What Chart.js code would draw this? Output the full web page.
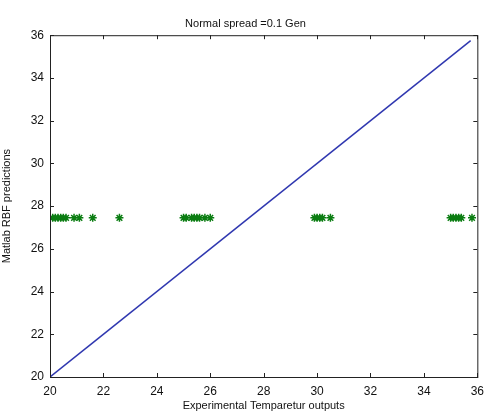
<!DOCTYPE html>
<html>
<head>
<meta charset="utf-8">
<script src="https://cdn.jsdelivr.net/npm/chart.js@4"></script>
<style>
  body { margin: 0; background: #fff; }
</style>
</head>
<body>
<canvas id="rbfChart" width="491" height="413"></canvas>
<script>
var experimental = [20.1, 20.2, 20.3, 20.4, 20.5, 20.6, 20.9, 21.1, 21.6, 22.6,
                    25.0, 25.1, 25.3, 25.4, 25.5, 25.6, 25.8, 26.0,
                    29.9, 30.0, 30.1, 30.2, 30.5,
                    35.0, 35.1, 35.2, 35.3, 35.4, 35.8];
var predicted = [27.45, 27.45, 27.45, 27.45, 27.45, 27.45, 27.45, 27.45, 27.45, 27.45,
                 27.45, 27.45, 27.45, 27.45, 27.45, 27.45, 27.45, 27.45,
                 27.45, 27.45, 27.45, 27.45, 27.45,
                 27.45, 27.45, 27.45, 27.45, 27.45, 27.45];
var idealX = [20, 35.75];
var idealY = [20, 35.75];
var xTicks = [20, 22, 24, 26, 28, 30, 32, 34, 36];
var yTicks = [20, 22, 24, 26, 28, 30, 32, 34, 36];

var points = experimental.map(function(v, i) { return {x: v, y: predicted[i]}; });
var ideal = idealX.map(function(v, i) { return {x: v, y: idealY[i]}; });

// matlab style box with inward ticks on all four sides
var boxPlugin = {
    id: 'matlabBox',
    afterDraw: function(chart) {
        var ctx = chart.ctx;
        var a = chart.chartArea;
        var sx = chart.scales.x, sy = chart.scales.y;
        ctx.save();
        ctx.strokeStyle = '#222';
        ctx.lineWidth = 1;
        ctx.strokeRect(a.left + 0.5, a.top + 0.5, a.width, a.height);
        ctx.beginPath();
        xTicks.forEach(function(v) {
            var px = Math.round(sx.getPixelForValue(v)) + 0.5;
            ctx.moveTo(px, a.bottom); ctx.lineTo(px, a.bottom - 4);
            ctx.moveTo(px, a.top); ctx.lineTo(px, a.top + 4);
        });
        yTicks.forEach(function(v) {
            var py = Math.round(sy.getPixelForValue(v)) + 0.5;
            ctx.moveTo(a.left, py); ctx.lineTo(a.left + 4, py);
            ctx.moveTo(a.right, py); ctx.lineTo(a.right - 4, py);
        });
        ctx.stroke();
        ctx.restore();
    }
};

var ctx = document.getElementById('rbfChart').getContext('2d');
var chart = new Chart(ctx, {
    type: 'scatter',
    data: {
        datasets: [{
            data: ideal,
            showLine: true,
            borderColor: '#3038b0',
            borderWidth: 1.5,
            pointRadius: 0
        }, {
            data: points,
            pointStyle: 'star',
            pointRadius: 4,
            borderWidth: 1.5,
            borderColor: '#0b7d12',
            backgroundColor: '#0b7d12'
        }]
    },
    options: {
        responsive: false,
        animation: false,
        layout: { padding: { top: 0, right: 0, left: 0, bottom: 0 } },
        plugins: {
            legend: { display: false },
            tooltip: { enabled: false },
            title: {
                display: true,
                text: 'Normal spread =0.1 Gen',
                color: '#111',
                font: { family: 'Liberation Sans', size: 11, weight: 'normal' },
                padding: { top: 17, bottom: 5 }
            }
        },
        scales: {
            x: {
                type: 'linear',
                min: 20,
                max: 36,
                afterBuildTicks: function(scale) {
                    scale.ticks = xTicks.map(function(v) { return {value: v}; });
                },
                afterFit: function(scale) { scale.height = 36; },
                grid: { display: false, drawTicks: false },
                border: { display: false },
                ticks: { color: '#111', padding: 7, font: { family: 'Liberation Sans', size: 12 } },
                title: {
                    display: true,
                    text: 'Experimental Temparetur outputs',
                    color: '#111',
                    padding: 0,
                    font: { family: 'Liberation Sans', size: 11 }
                }
            },
            y: {
                type: 'linear',
                min: 20,
                max: 36,
                afterBuildTicks: function(scale) {
                    scale.ticks = yTicks.map(function(v) { return {value: v}; });
                },
                afterFit: function(scale) { scale.width = 50; },
                grid: { display: false, drawTicks: false },
                border: { display: false },
                ticks: { color: '#111', padding: 6, font: { family: 'Liberation Sans', size: 12 } },
                title: {
                    display: true,
                    text: 'Matlab RBF predictions',
                    color: '#111',
                    padding: 0,
                    font: { family: 'Liberation Sans', size: 11 }
                }
            }
        }
    },
    plugins: [boxPlugin]
});
</script>
</body>
</html>
